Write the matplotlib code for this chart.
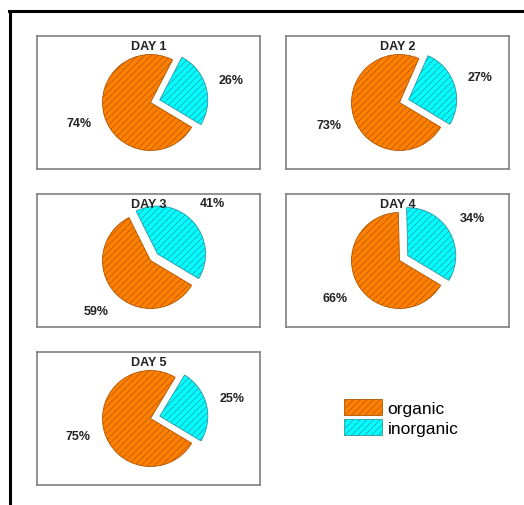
import matplotlib
matplotlib.use("Agg")
from matplotlib import pyplot as plt
from matplotlib.lines import Line2D

plt.rcParams["font.family"] = ["Liberation Sans", "DejaVu Sans"]
plt.rcParams["hatch.linewidth"] = 0.5

days = ["DAY 1", "DAY 2", "DAY 3", "DAY 4", "DAY 5"]
organic = [74, 73, 59, 66, 75]
inorganic = [26, 27, 41, 34, 25]

W, H = 524, 506
fig = plt.figure(figsize=(W / 100, H / 100), dpi=100)

# panel boxes in pixels: left, top, width, height
boxes = [(37, 37), (286, 37), (37, 195), (286, 195), (37, 353)]
bw, bh = 223, 133

fill = {"organic": "#ff8000", "inorganic": "#00ffff"}
edge = {"organic": "#b05400", "inorganic": "#2f95a3"}
r = 48

handles = None
for i, day in enumerate(days):
    left, top = boxes[i]
    ax = fig.add_axes([left / W, 1 - (top + bh) / H, bw / W, bh / H])
    vals = [inorganic[i], organic[i]]
    names = ["inorganic", "organic"]
    wedges, _, pcts = ax.pie(
        vals, startangle=-31, counterclock=True, radius=r, center=(2, 0),
        explode=[0.2 * r, 0], colors=[fill[n] for n in names],
        autopct="%.0f%%", pctdistance=1.55,
        wedgeprops={"linewidth": 0.6},
        textprops={"fontsize": 9, "fontweight": "bold", "color": "#222222"},
    )
    for w, n in zip(wedges, names):
        w.set_edgecolor(edge[n])
        w.set_hatch("/////")
    ax.set_xlim(-bw / 2, bw / 2)
    ax.set_ylim(-bh / 2, bh / 2)
    ax.set_aspect("equal")
    ax.set_frame_on(True)
    ax.set_xticks([])
    ax.set_yticks([])
    for s in ax.spines.values():
        s.set_color("#808080")
        s.set_linewidth(1.2)
    ax.text(0.5, 1 - 10 / bh, day, transform=ax.transAxes, ha="center",
            va="center", fontsize=9, fontweight="bold", color="#222222",
            zorder=6)
    if handles is None:
        handles = [wedges[1], wedges[0]]

fig.legend(handles, ["organic", "inorganic"], loc="upper left",
           bbox_to_anchor=(344 / W, 1 - 400 / H), frameon=False,
           fontsize=12.5, handlelength=2.2, handleheight=1.0,
           handletextpad=0.3, labelspacing=0.2, borderpad=0,
           borderaxespad=0)

# outer frame, open on the right and bottom
fig.add_artist(Line2D([9 / W, 1], [1 - 12 / H, 1 - 12 / H], color="black",
                      linewidth=2.2, transform=fig.transFigure))
fig.add_artist(Line2D([10 / W, 10 / W], [0, 1 - 12 / H], color="black",
                      linewidth=2.2, transform=fig.transFigure))

fig.savefig("out.png", dpi=100)
